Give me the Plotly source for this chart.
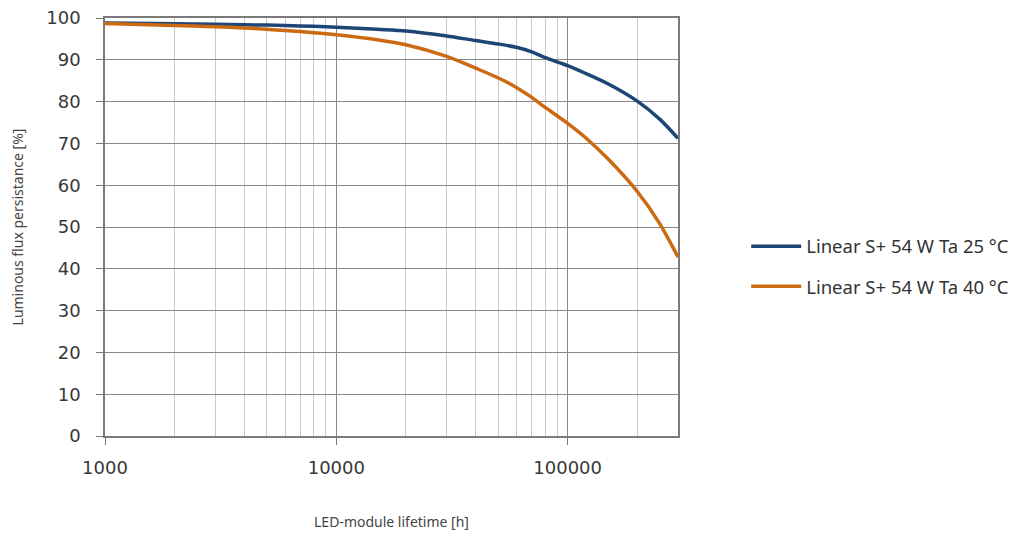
import math
import plotly.graph_objects as go

# Data
hours = [1000, 2000, 3000, 4000, 5000, 6000, 8000, 10000, 15000, 20000, 30000,
         40000, 50000, 60000, 70000, 80000, 100000, 120000, 150000, 200000,
         250000, 300000]
flux_25C = [98.8, 98.6, 98.5, 98.4, 98.3, 98.2, 98.0, 97.8, 97.3, 96.9, 95.7,
            94.6, 93.8, 93.0, 91.9, 90.5, 88.6, 86.7, 84.2, 80.1, 75.8, 71.2]
flux_40C = [98.7, 98.2, 97.9, 97.6, 97.3, 97.0, 96.5, 96.0, 94.8, 93.6, 90.8,
            88.0, 85.7, 83.4, 81.0, 78.6, 74.8, 71.3, 66.2, 58.5, 50.8, 42.8]
series_names = ["Linear S+ 54 W Ta 25 °C", "Linear S+ 54 W Ta 40 °C"]
x_tick_vals = [1000, 10000, 100000]
x_tick_text = ["1000", "10000", "100000"]
y_tick_vals = [0, 10, 20, 30, 40, 50, 60, 70, 80, 90, 100]
x_max = 300000

colors = ["#1d4677", "#cc6a12"]

fig = go.Figure()
for i, (name, ys) in enumerate(zip(series_names, [flux_25C, flux_40C])):
    fig.add_trace(go.Scatter(
        x=hours, y=ys, mode="lines", name=name,
        line=dict(color=colors[i], width=3.5, shape="spline", smoothing=0.8),
        legendgroup="g%d" % i,
    ))

tick_font = dict(family="DejaVu Sans", size=18, color="#383838")
title_font = dict(family="Noto Sans", size=14, color="#444444")

# the page body has an 8px default margin, so margins are offset by 8px
fig.update_layout(
    width=1016, height=534,
    margin=dict(l=97, r=346, t=10, b=106),
    paper_bgcolor="white", plot_bgcolor="white",
    showlegend=True,
    legend=dict(
        x=1.119, y=0.405, xanchor="left", yanchor="middle",
        font=dict(family="Noto Sans", size=18.5, color="#333333"),
        traceorder="grouped", tracegroupgap=13,
        bgcolor="rgba(0,0,0,0)", itemwidth=50,
    ),
    xaxis=dict(
        type="log", automargin=False,
        range=[3, math.log10(x_max)],
        tickvals=x_tick_vals, ticktext=x_tick_text,
        tickfont=tick_font, ticklabeloverflow="allow",
        showgrid=True, gridcolor="#888888", gridwidth=1.3,
        minor=dict(dtick="D1", showgrid=True, gridcolor="#c9c9c9", gridwidth=1,
                   ticks=""),
        ticks="outside", ticklen=7, tickcolor="#777777",
        ticklabelstandoff=8,
        showline=True, linecolor="#7a7a7a", linewidth=1.5, mirror=True,
        title=dict(text="LED-module lifetime [h]", font=title_font, standoff=40),
        zeroline=False,
    ),
    yaxis=dict(
        automargin=False,
        range=[0, 100],
        tickvals=y_tick_vals,
        tickfont=tick_font, ticklabeloverflow="allow",
        showgrid=True, gridcolor="#888888", gridwidth=1.3,
        ticks="outside", ticklen=7, tickcolor="#777777",
        ticklabelstandoff=12,
        showline=True, linecolor="#7a7a7a", linewidth=1.5, mirror=True,
        title=dict(text="Luminous flux persistance [%]", font=title_font, standoff=20),
        zeroline=False,
    ),
)

fig.write_html("out.html")
